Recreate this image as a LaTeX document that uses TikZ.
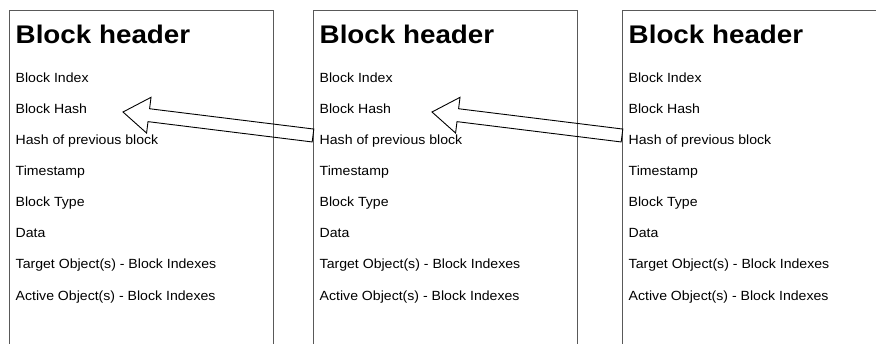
\documentclass[tikz,border=0pt]{standalone}
\usepackage{fontspec}
\setmainfont{Liberation Sans}
\newfontfamily\widefont[FakeStretch=1.06]{Liberation Sans}
\newfontfamily\widebold[FakeStretch=1.09]{Liberation Sans Bold}
\usetikzlibrary{calc}
\tikzset{
  blockbox/.style={draw=black!65, line width=1pt, minimum width=264pt, minimum height=380pt, anchor=north west, inner sep=0pt},
  title/.style={anchor=base west, font=\widebold\fontsize{25.5}{28}\selectfont, inner sep=0pt},
  field/.style={anchor=base west, font=\widefont\fontsize{13.3}{15}\selectfont, inner sep=0pt},
  fatarrow/.style={draw=black, line width=0.9pt, line join=miter}
}
\begin{document}
\begin{tikzpicture}[x=1pt,y=-1pt]
\useasboundingbox (0,0) rectangle (876,343);
\clip (0,0) rectangle (876,343);
\foreach \i/\x in {1/9, 2/313, 3/622} {
  \node[blockbox] (box\i) at (\x,10) {};
  \node[title] (t\i) at (\x+6.5,43) {Block header};
  \node[field] (a\i) at (\x+6.5,82.5) {Block Index};
  \node[field] (b\i) at (\x+6.5,113.6) {Block Hash};
  \node[field] (c\i) at (\x+6.5,144.6) {Hash of previous block};
  \node[field] (d\i) at (\x+6.5,175.7) {Timestamp};
  \node[field] (e\i) at (\x+6.5,206.8) {Block Type};
  \node[field] (f\i) at (\x+6.5,237.9) {Data};
  \node[field] (g\i) at (\x+6.5,268.9) {Target Object(s) - Block Indexes};
  \node[field] (h\i) at (\x+6.5,300) {Active Object(s) - Block Indexes};
}
% arrows: tail at the next box's left edge, tip near "Block Hash"
\foreach \s in {2,3} {
  \coordinate (tail\s) at ($(box\s.north west)+(0,125.5)$);
  \coordinate (tip\s) at ($(tail\s)+(-190,-23.5)$);
  \coordinate (hb\s) at ($(tip\s)!26pt!(tail\s)$);
  \draw[fatarrow] (tip\s)
    -- ($(hb\s)!18pt!90:(tip\s)$)
    -- ($(hb\s)!6.5pt!90:(tip\s)$)
    -- ($(tail\s)!6.5pt!90:(tip\s)$)
    -- ($(tail\s)!6.5pt!-90:(tip\s)$)
    -- ($(hb\s)!6.5pt!-90:(tip\s)$)
    -- ($(hb\s)!18pt!-90:(tip\s)$)
    -- cycle;
}
\end{tikzpicture}
\end{document}
